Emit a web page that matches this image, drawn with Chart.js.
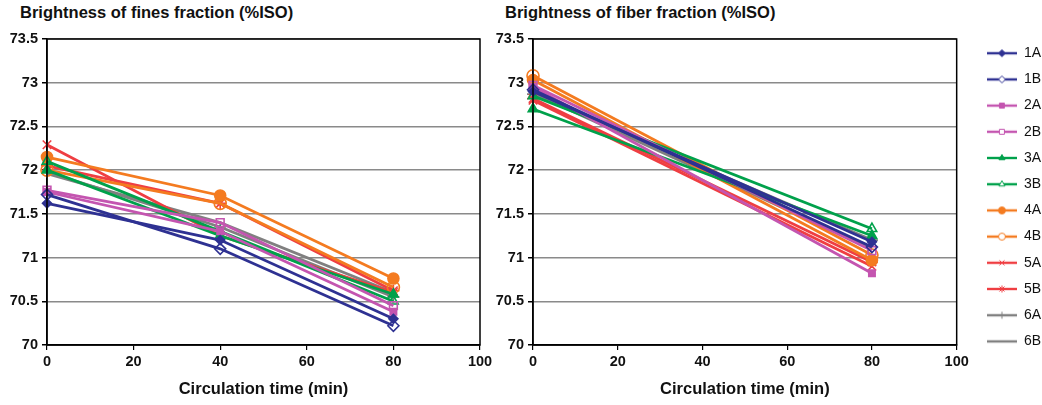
<!DOCTYPE html>
<html>
<head>
<meta charset="utf-8">
<script src="https://cdn.jsdelivr.net/npm/chart.js@4/dist/chart.umd.min.js"></script>
<style>
  html, body { margin: 0; padding: 0; background: #fff; }
  #wrap { position: relative; width: 1042px; height: 405px; overflow: hidden; }
  .ttl { position: absolute; top: 3px; font: bold 16.5px Arial, "Liberation Sans", sans-serif; color: #111; white-space: nowrap; }
  #c1 { position: absolute; left: 0; top: 0; }
  #c2 { position: absolute; left: 486px; top: 0; }
</style>
</head>
<body>
<div id="wrap">
  <div class="ttl" style="left:20px">Brightness of fines fraction (%ISO)</div>
  <div class="ttl" style="left:505px">Brightness of fiber fraction (%ISO)</div>
  <canvas id="c1" width="500" height="405"></canvas>
  <canvas id="c2" width="565" height="405"></canvas>
</div>
<script>
// sample names
const samples = ["1A", "1B", "2A", "2B", "3A", "3B", "4A", "4B", "5A", "5B", "6A", "6B"];

// circulation time (min)
const finesTimes = [0, 40, 80];
const fiberTimes = [0, 80];

// brightness of fines fraction, %ISO, per sample at 0 / 40 / 80 min
const fines1A = [71.62, 71.20, 70.30];
const fines1B = [71.72, 71.10, 70.22];
const fines2A = [71.75, 71.30, 70.38];
const fines2B = [71.77, 71.40, 70.45];
const fines3A = [72.00, 71.25, 70.58];
const fines3B = [72.10, 71.30, 70.50];
const fines4A = [72.15, 71.71, 70.76];
const fines4B = [72.00, 71.62, 70.66];
const fines5A = [72.29, 71.25, 70.60];
const fines5B = [72.05, 71.62, 70.62];
const fines6A = [71.98, 71.35, 70.55];
const fines6B = [71.96, 71.40, 70.60];

// brightness of fiber fraction, %ISO, per sample at 0 / 80 min
const fiber1A = [72.90, 71.18];
const fiber1B = [72.92, 71.12];
const fiber2A = [72.95, 70.82];
const fiber2B = [72.97, 71.08];
const fiber3A = [72.70, 71.25];
const fiber3B = [72.85, 71.33];
const fiber4A = [73.03, 70.97];
const fiber4B = [73.08, 71.03];
const fiber5A = [72.80, 70.90];
const fiber5B = [72.82, 70.95];
const fiber6A = [72.87, 71.20];
const fiber6B = [72.88, 71.10];

const yTicks = [70, 70.5, 71, 71.5, 72, 72.5, 73, 73.5];

const finesValues = [fines1A, fines1B, fines2A, fines2B, fines3A, fines3B, fines4A, fines4B, fines5A, fines5B, fines6A, fines6B];
const fiberValues = [fiber1A, fiber1B, fiber2A, fiber2B, fiber3A, fiber3B, fiber4A, fiber4B, fiber5A, fiber5B, fiber6A, fiber6B];

const FONT = 'Arial, "Liberation Sans", sans-serif';

// series look: color, marker, filled, radius
const look = [
  ["#2e3192", "rectRot", true, 4.5],
  ["#2e3192", "rectRot", false, 5.5],
  ["#c455b0", "rect", true, 4.5],
  ["#c455b0", "rect", false, 5.5],
  ["#00a14b", "triangle", true, 5.5],
  ["#00a14b", "triangle", false, 5.5],
  ["#f47b20", "circle", true, 5.5],
  ["#f47b20", "circle", false, 6],
  ["#ef3e42", "crossRot", false, 6],
  ["#ef3e42", "star", false, 6],
  ["#808080", "cross", false, 6],
  ["#808080", false, false, 0]
];

function buildSets(times, values) {
  return samples.map((name, i) => {
    const [color, style, filled, r] = look[i];
    return {
      label: name,
      data: times.map((t, k) => ({ x: t, y: values[i][k] })),
      borderColor: color,
      backgroundColor: filled ? color : "#ffffff",
      borderWidth: 2.8,
      pointStyle: style,
      pointRadius: style ? r : 0,
      pointBorderWidth: 1.6,
      pointBorderColor: color,
      pointBackgroundColor: filled ? color : "rgba(255,255,255,0)",
      clip: false,
      tension: 0
    };
  });
}

// line-with-marker swatch for the legend
function legendIcon(i) {
  const [color, style, filled] = look[i];
  const c = document.createElement("canvas");
  c.width = 30; c.height = 12;
  const ctx = c.getContext("2d");
  ctx.strokeStyle = color;
  ctx.lineWidth = 2.4;
  ctx.beginPath();
  ctx.moveTo(0, 6); ctx.lineTo(30, 6);
  ctx.stroke();
  if (style) {
    ctx.fillStyle = filled ? color : "#ffffff";
    ctx.lineWidth = 1;
    Chart.helpers.drawPoint(ctx, { pointStyle: style, radius: 3.5, borderWidth: 1, rotation: 0 }, 15, 6);
  }
  return c;
}

// black frame around the plot area
const frame = {
  id: "frame",
  afterDatasetsDraw(chart) {
    const a = chart.chartArea;
    const ctx = chart.ctx;
    ctx.save();
    ctx.strokeStyle = "#000";
    ctx.lineWidth = 1.5;
    ctx.strokeRect(a.left, a.top, a.right - a.left, a.bottom - a.top);
    ctx.restore();
  }
};

// invisible strip used to push boxes apart
function spacer(position, size) {
  return {
    type: "linear",
    position: position,
    display: true,
    afterFit(s) {
      if (position === "top") s.height = size; else s.width = size;
    },
    ticks: { display: false },
    grid: { display: false },
    border: { display: false }
  };
}

function options(showLegend, padRight) {
  const opts = {
    responsive: false,
    animation: false,
    layout: { padding: { left: 0, top: showLegend ? 34 : 39, right: padRight, bottom: 0 } },
    plugins: {
      legend: showLegend ? {
        display: true,
        position: "right",
        align: "start",
        labels: {
          usePointStyle: true,
          pointStyleWidth: 30,
          boxHeight: 12,
          padding: 12.2,
          color: "#111",
          font: { family: FONT, size: 14 },
          generateLabels(chart) {
            return chart.data.datasets.map((ds, i) => ({
              text: ds.label,
              pointStyle: legendIcon(i),
              fontColor: "#111",
              datasetIndex: i,
              lineWidth: 0,
              hidden: false
            }));
          }
        }
      } : { display: false },
      tooltip: { enabled: false }
    },
    scales: {
      x: {
        type: "linear",
        min: 0, max: 100,
        afterFit(s) { s.height = 60; },
        ticks: { stepSize: 20, color: "#111", padding: 3, font: { family: FONT, size: 14.5, weight: "bold" } },
        grid: { drawOnChartArea: false, tickLength: 5, color: "#000", lineWidth: 1.2 },
        border: { color: "#000", width: 1.5 },
        title: { display: true, text: "Circulation time (min)", color: "#111", padding: { top: 4, bottom: 6 }, font: { family: FONT, size: 16.5, weight: "bold" } }
      },
      y: {
        min: 70, max: 73.5,
        afterFit(s) { s.width = 47; },
        afterBuildTicks(s) { s.ticks = yTicks.map(v => ({ value: v })); },
        ticks: { color: "#111", padding: 4, font: { family: FONT, size: 14.5, weight: "bold" }, callback: v => String(v) },
        grid: { color: "#8a8a8a", lineWidth: 1.5, tickLength: 5, tickColor: "#000" },
        border: { color: "#000", width: 1.5 }
      }
    }
  };
  if (showLegend) {
    opts.scales.gapRight = spacer("right", 18);
    opts.scales.gapTop = spacer("top", 5);
  }
  return opts;
}

new Chart(document.getElementById("c1"), {
  type: "line",
  data: { datasets: buildSets(finesTimes, finesValues) },
  options: options(false, 20),
  plugins: [frame]
});

new Chart(document.getElementById("c2"), {
  type: "line",
  data: { datasets: buildSets(fiberTimes, fiberValues) },
  options: options(true, 0),
  plugins: [frame]
});
</script>
</body>
</html>
